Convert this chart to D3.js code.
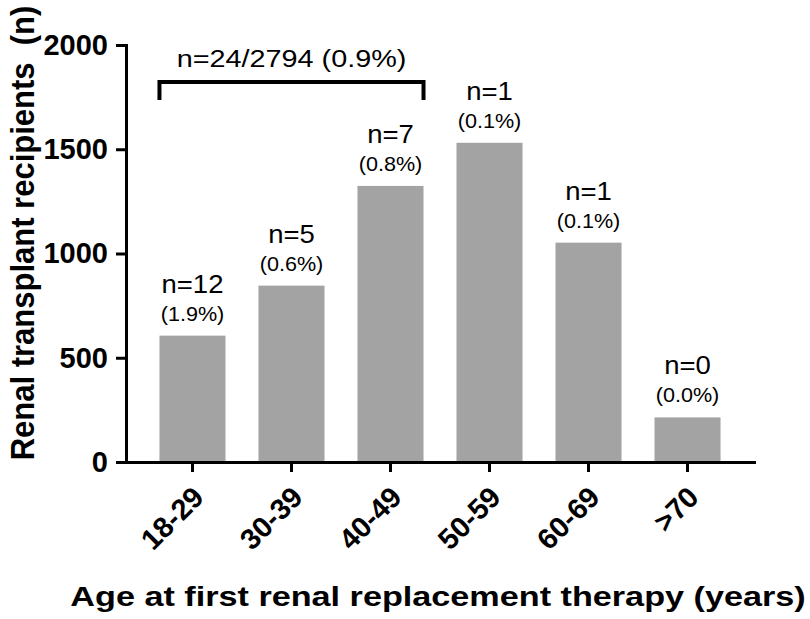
<!DOCTYPE html>
<html>
<head>
<meta charset="utf-8">
<script src="https://cdn.jsdelivr.net/npm/d3@7"></script>
<style>
  body { margin: 0; background: #fff; }
  svg { display: block; font-family: "Liberation Sans", Arial, sans-serif; }
  .axis path, .axis line { stroke: #000; stroke-width: 3; }
  .axis text { font-size: 29px; font-weight: 700; fill: #000; }
  .bar { fill: #a3a3a3; }
  .note { fill: #000; }
</style>
</head>
<body>
<svg id="chart" width="810" height="619"></svg>
<script>
const ageGroups = ["18-29", "30-39", "40-49", "50-59", "60-69", ">70"];
const recipients = [606, 846, 1324, 1531, 1052, 214];
const nLabels = ["n=12", "n=5", "n=7", "n=1", "n=1", "n=0"];
const pctLabels = ["(1.9%)", "(0.6%)", "(0.8%)", "(0.1%)", "(0.1%)", "(0.0%)"];
const yTicks = [0, 500, 1000, 1500, 2000];
const bracketGroups = ["18-29", "40-49"];
const bracketLabel = "n=24/2794 (0.9%)";

const svg = d3.select("#chart");

const x = d3.scaleBand().domain(ageGroups).range([126, 754]).paddingInner(0.333).paddingOuter(0.338);
const y = d3.scaleLinear().domain([0, 2000]).range([462, 45]);

const rows = ageGroups.map((group, i) => ({
  group,
  value: recipients[i],
  n: nLabels[i],
  pct: pctLabels[i],
}));

// bars
svg.selectAll(".bar")
  .data(rows)
  .enter()
  .append("rect")
  .attr("class", "bar")
  .attr("x", (d) => x(d.group))
  .attr("width", x.bandwidth())
  .attr("y", (d) => y(d.value))
  .attr("height", (d) => y(0) - y(d.value));

// axes
const yAxis = svg.append("g")
  .attr("class", "axis")
  .attr("transform", `translate(${x.range()[0]},0)`)
  .call(d3.axisLeft(y).tickValues(yTicks).tickFormat(d3.format("d")).tickSize(10).tickSizeOuter(0).tickPadding(8));
yAxis.select(".domain").attr("stroke-linecap", "square");

const xAxis = svg.append("g")
  .attr("class", "axis")
  .attr("transform", `translate(0,${y(0)})`)
  .call(d3.axisBottom(x).tickSize(10).tickSizeOuter(0));
xAxis.select(".domain").attr("stroke-linecap", "square");
xAxis.selectAll(".tick text")
  .attr("x", 0)
  .attr("y", 0)
  .attr("dy", 0)
  .attr("text-anchor", "end")
  .attr("transform", "translate(13,37) rotate(-45)");

// value annotations
const notes = svg.selectAll(".note-group")
  .data(rows)
  .enter()
  .append("g")
  .attr("class", "note-group")
  .attr("transform", (d) => `translate(${x(d.group) + x.bandwidth() / 2},0)`);

notes.append("text")
  .attr("class", "note")
  .attr("text-anchor", "middle")
  .attr("font-size", 25)
  .attr("transform", (d) => `translate(0,${y(d.value) - 43}) scale(1.1,1)`)
  .text((d) => d.n);

notes.append("text")
  .attr("class", "note")
  .attr("text-anchor", "middle")
  .attr("font-size", 20)
  .attr("transform", (d) => `translate(0,${y(d.value) - 15}) scale(1.08,1)`)
  .text((d) => d.pct);

// bracket over first three groups
const bx0 = x(bracketGroups[0]);
const bx1 = x(bracketGroups[1]) + x.bandwidth();
const by = 82;
svg.append("path")
  .attr("d", `M${bx0},${by + 18}V${by}H${bx1}V${by + 18}`)
  .attr("fill", "none")
  .attr("stroke", "#000")
  .attr("stroke-width", 4);

svg.append("text")
  .attr("class", "note")
  .attr("text-anchor", "middle")
  .attr("font-size", 24)
  .attr("transform", `translate(${(bx0 + bx1) / 2},${by - 15}) scale(1.2,1)`)
  .text(bracketLabel);

// axis titles
svg.append("text")
  .attr("text-anchor", "middle")
  .attr("font-size", 28.5)
  .attr("font-weight", 700)
  .attr("transform", "translate(438,606) scale(1.2,1)")
  .text("Age at first renal replacement therapy (years)");

svg.append("text")
  .attr("text-anchor", "middle")
  .attr("font-size", 31)
  .attr("font-weight", 700)
  .attr("xml:space", "preserve")
  .attr("transform", "translate(34,233) rotate(-90) scale(1,1.08)")
  .text("Renal transplant recipients  (n)");
</script>
</body>
</html>
